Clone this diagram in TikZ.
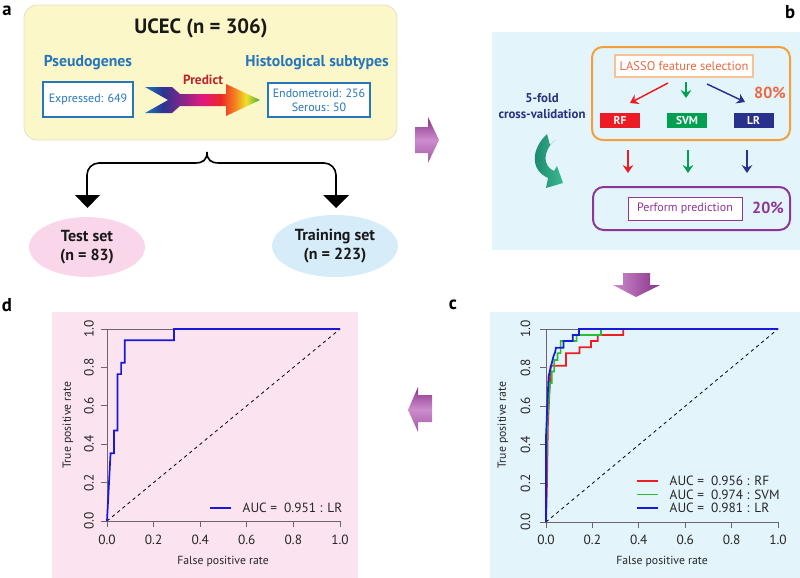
\documentclass[tikz,border=0pt]{standalone}
\usepackage{fontspec}
\setmainfont{PT Sans}
\usetikzlibrary{arrows.meta,shapes.geometric,calc}
\definecolor{ybg}{RGB}{252,247,200}
\definecolor{yborder}{RGB}{226,223,195}
\definecolor{ablue}{RGB}{38,118,188}
\definecolor{pinkbg}{RGB}{251,227,240}
\definecolor{pinkell}{RGB}{249,214,233}
\definecolor{bluebg}{RGB}{227,244,251}
\definecolor{blueell}{RGB}{214,237,249}
\definecolor{predred}{RGB}{190,35,45}
\definecolor{orangeb}{RGB}{243,160,60}
\definecolor{lassob}{RGB}{247,195,150}
\definecolor{lassotxt}{RGB}{235,105,65}
\definecolor{rfred}{RGB}{237,28,36}
\definecolor{svmgreen}{RGB}{0,160,80}
\definecolor{lrnavy}{RGB}{40,50,140}
\definecolor{purpb}{RGB}{140,55,150}
\definecolor{navytxt}{RGB}{40,50,130}
\definecolor{rocred}{RGB}{235,30,35}
\definecolor{rocgreen}{RGB}{40,190,50}
\definecolor{rocblue}{RGB}{25,25,220}
\definecolor{axgray}{RGB}{110,100,110}
\definecolor{purpD}{RGB}{135,50,135}
\definecolor{purpL}{RGB}{205,140,205}
\definecolor{tealD}{RGB}{25,130,105}
\definecolor{tealL}{RGB}{60,185,145}
\definecolor{rbA}{RGB}{30,120,190}
\definecolor{rbB}{RGB}{45,50,145}
\definecolor{rbC}{RGB}{120,40,140}
\definecolor{rbD}{RGB}{225,25,125}
\definecolor{rbE}{RGB}{235,40,40}
\definecolor{rbF}{RGB}{245,130,32}
\definecolor{rbG}{RGB}{240,225,40}
\definecolor{rbH}{RGB}{60,170,60}
\pgfdeclarehorizontalshading{rainbow}{100bp}{color(0bp)=(rbA); color(25bp)=(rbA); color(33bp)=(rbB); color(40bp)=(rbC); color(50bp)=(rbD); color(58bp)=(rbE); color(64bp)=(rbF); color(69bp)=(rbG); color(75bp)=(rbH); color(100bp)=(rbH)}
\begin{document}
\begin{tikzpicture}[x=0.75pt,y=-0.75pt,
  panlab/.style={font=\fontsize{14}{14}\selectfont\bfseries, text=black},
  hdr/.style={font=\fontsize{11.8}{13}\selectfont\bfseries, text=ablue},
  bluebox/.style={draw=ablue, line width=0.8pt, fill=white, text=ablue, font=\fontsize{9}{10.5}\selectfont, align=center},
  ell/.style={ellipse, font=\fontsize{12}{14}\selectfont\bfseries, align=center, text=black!90},
  brace/.style={line width=1.2pt, black},
  algbox/.style={font=\fontsize{8.5}{10}\selectfont\bfseries, text=white, minimum width=30pt, minimum height=11.25pt, inner sep=0pt},
  arr/.style={line width=1.1pt, -{Stealth[length=6pt,width=8pt,inset=2pt]}},
  pct/.style={font=\fontsize{12}{14}\selectfont\bfseries},
  ticklab/.style={font=\fontsize{10}{11}\selectfont, text=black!85},
  axtitle/.style={font=\fontsize{8.8}{10}\selectfont, text=black!85},
  axline/.style={axgray, line width=0.5pt},
  roc/.style={line width=1.3pt, line join=miter},
  diag/.style={black, line width=0.6pt, dash pattern=on 2.5pt off 2.5pt}]
\useasboundingbox (0,0) rectangle (800,578);

% ---------------- panel a ----------------
\node[panlab] (la) at (7,11) {a};
\draw[fill=ybg, draw=yborder, line width=0.6pt, rounded corners=10pt] (24,5) rectangle (397,140);
\node[font=\fontsize{15.5}{17}\selectfont\bfseries, text=black!90] (ucec) at (201,28) {UCEC (n = 306)};
\node[hdr] (pseudo) at (88,63) {Pseudogenes};
\node[hdr] (histo) at (317,63) {Histological subtypes};
\node[bluebox, minimum width=67.5pt, minimum height=26.25pt] (expr) at (88,99.5) {Expressed: 649};
\node[bluebox, minimum width=76.5pt, minimum height=25.5pt, inner sep=1pt] (endo) at (319,100) {Endometroid: 256\\Serous: 50};
\shade[shading=rainbow] (145,87) -- (172,87) -- (180,94) -- (226,94) -- (226,84) -- (260,100) -- (226,116) -- (226,106) -- (180,106) -- (172,113) -- (145,113) -- (168,100) -- cycle;
\node[font=\fontsize{10}{11}\selectfont\bfseries, text=predred] (pred) at (203,80) {Predict};

\coordinate (bc) at (207,152);
\draw[brace] (bc) .. controls (207,160) and (203,163) .. (195,163);
\draw[brace] (bc) .. controls (207,160) and (211,163) .. (219,163);
\draw[brace, rounded corners=9pt] (195,163) -- (87,163) -- (87,197);
\draw[brace, rounded corners=9pt] (219,163) -- (336,163) -- (336,197);
\fill[black] (75,195) -- (100,195) -- (87.5,208) -- cycle;
\fill[black] (323,195) -- (349,195) -- (336,208) -- cycle;
\node[ell, fill=pinkell, minimum width=87pt, minimum height=42pt] (test) at (87,247) {Test set\\(n = 83)};
\node[ell, fill=blueell, minimum width=87pt, minimum height=46.5pt] (train) at (335,246) {Training set\\(n = 223)};

% purple block arrows
\shade[top color=purpD, bottom color=purpD!80, middle color=purpL] (415,127) -- (428,127) -- (428,117) -- (439,140) -- (428,163) -- (428,153) -- (415,153) -- cycle;
\shade[left color=purpL, right color=purpD] (623,273) -- (650,273) -- (650,285) -- (660,285) -- (636,297) -- (613,285) -- (623,285) -- cycle;
\shade[top color=purpD, bottom color=purpD!80, middle color=purpL] (432,395) -- (418,395) -- (418,387) -- (408,410) -- (418,432) -- (418,422) -- (432,422) -- cycle;

% ---------------- panel b ----------------
\node[panlab] (lb) at (790,12) {b};
\fill[bluebg] (492,32) rectangle (800,250);
\draw[orangeb, line width=1.5pt, rounded corners=8pt] (592,47) rectangle (790,140);
\node[draw=lassob, line width=0.8pt, fill=white, text=lassotxt, font=\fontsize{9.4}{11}\selectfont, minimum width=103.5pt, minimum height=16.5pt, inner sep=1pt] (lasso) at (684,66) {LASSO feature selection};
\node[pct, text=lassotxt] (p80) at (770,93) {80\%};
\node[algbox, fill=rfred] (rf) at (620,120.5) {RF};
\node[algbox, fill=svmgreen] (svm) at (687,120.5) {SVM};
\node[algbox, fill=lrnavy] (lr) at (753.5,120.5) {LR};
\draw[arr, rfred] (668,83) -- (630,103);
\draw[arr, svmgreen] (686,82) -- (686,98);
\draw[arr, lrnavy] (707,84) -- (745,102);
\draw[arr, rfred] (628,150) -- (628,173);
\draw[arr, svmgreen] (688,150) -- (688,173);
\draw[arr, lrnavy] (747,150) -- (747,173);
\draw[purpb, line width=1.5pt, rounded corners=8pt] (593,187) rectangle (790,230);
\node[draw=purpb, line width=0.6pt, fill=white, text=purpb, font=\fontsize{9}{10}\selectfont, minimum width=85.5pt, minimum height=17.25pt, inner sep=1pt] (perf) at (685,208.5) {Perform prediction};
\node[pct, text=purpb] (p20) at (768,208) {20\%};
\node[font=\fontsize{9.6}{11.5}\selectfont\bfseries, text=navytxt, align=center] (cv) at (542,106) {5-fold\\cross-validation};
\shade[left color=tealD, right color=tealL] (547,134) .. controls (531,149) and (530,170) .. (548,178) -- (546,188) -- (563,183) -- (557,166) -- (554,171) .. controls (543,166) and (542,152) .. (555,140) -- (550,145) -- cycle;

% ---------------- panel c ----------------
\node[panlab] (lc) at (453,305) {c};
\fill[bluebg] (490,312) rectangle (800,578);
\begin{scope}[shift={(546,522)}, x=174pt, y=144.75pt]
  \draw[axline] (0,1) -- (0,0) -- (1,0);
  \draw[axline] (0,1) -- (1,1);
  \foreach \v/\l in {0/0.0,0.2/0.2,0.4/0.4,0.6/0.6,0.8/0.8,1/1.0}{
    \draw[axline] (\v,0) -- ++(0pt,-4.5pt);
    \node[ticklab] at ($(\v,0)+(0pt,-13.5pt)$) {\l};
    \draw[axline] (0,\v) -- ++(-4.5pt,0pt);
    \node[ticklab, rotate=90] at ($(0,\v)+(-15.5pt,0pt)$) {\l};
  }
  \draw[diag] (0,0) -- (1,1);
  \draw[roc, rocred] plot coordinates {(0,0) (0.004,0.19) (0.008,0.5) (0.012,0.6) (0.02,0.81) (0.086,0.81) (0.086,0.874) (0.144,0.874) (0.144,0.905) (0.194,0.905) (0.194,0.938) (0.223,0.938) (0.223,0.969) (0.333,0.969) (0.333,1) (1,1)};
  \draw[roc, rocgreen] plot coordinates {(0,0) (0.004,0.5) (0.01,0.6) (0.017,0.72) (0.025,0.72) (0.025,0.78) (0.035,0.78) (0.035,0.84) (0.05,0.84) (0.05,0.875) (0.063,0.875) (0.063,0.938) (0.132,0.938) (0.132,0.969) (0.237,0.969) (0.237,1) (1,1)};
  \draw[roc, rocblue] plot coordinates {(0,0) (0,0.44) (0.006,0.615) (0.011,0.753) (0.021,0.805) (0.032,0.857) (0.04,0.883) (0.043,0.903) (0.075,0.903) (0.075,0.938) (0.115,0.938) (0.115,0.969) (0.142,0.969) (0.142,1) (1,1)};
\end{scope}
\node[axtitle] (cx) at (662,562) {False positive rate};
\node[axtitle, rotate=90] (cy) at (503,425) {True positive rate};
\draw[roc, rocred] (637,481) -- (658,481);
\draw[roc, rocgreen] (637,494.5) -- (658,494.5);
\draw[roc, rocblue] (637,508) -- (658,508);
\node[ticklab, anchor=west] (l1) at (665,481) {AUC =\ \ 0.956 : RF};
\node[ticklab, anchor=west] (l2) at (665,494.5) {AUC =\ \ 0.974 : SVM};
\node[ticklab, anchor=west] (l3) at (665,508) {AUC =\ \ 0.981 : LR};

% ---------------- panel d ----------------
\node[panlab] (ld) at (7,305) {d};
\fill[pinkbg] (52,312) rectangle (358,578);
\begin{scope}[shift={(107,521)}, x=174.75pt, y=144pt]
  \draw[axline] (0,1) -- (0,0) -- (1,0);
  \draw[axline] (0,1) -- (1,1);
  \foreach \v/\l in {0/0.0,0.2/0.2,0.4/0.4,0.6/0.6,0.8/0.8,1/1.0}{
    \draw[axline] (\v,0) -- ++(0pt,-4.5pt);
    \node[ticklab] at ($(\v,0)+(0pt,-14pt)$) {\l};
    \draw[axline] (0,\v) -- ++(-4.5pt,0pt);
    \node[ticklab, rotate=90] at ($(0,\v)+(-13.5pt,0pt)$) {\l};
  }
  \draw[diag] (0,0) -- (1,1);
  \draw[roc, rocblue] plot coordinates {(0,0) (0.0152,0.353) (0.0303,0.353) (0.0303,0.471) (0.0455,0.471) (0.0455,0.765) (0.0606,0.765) (0.0606,0.824) (0.0758,0.824) (0.0758,0.941) (0.288,0.941) (0.288,1) (1,1)};
\end{scope}
\node[axtitle] (dx) at (223,562) {False positive rate};
\node[axtitle, rotate=90] (dy) at (68,425) {True positive rate};
\draw[roc, rocblue] (210,508) -- (231,508);
\node[ticklab, anchor=west] (l4) at (238,508) {AUC =\ \ 0.951 : LR};
\end{tikzpicture}
\end{document}
